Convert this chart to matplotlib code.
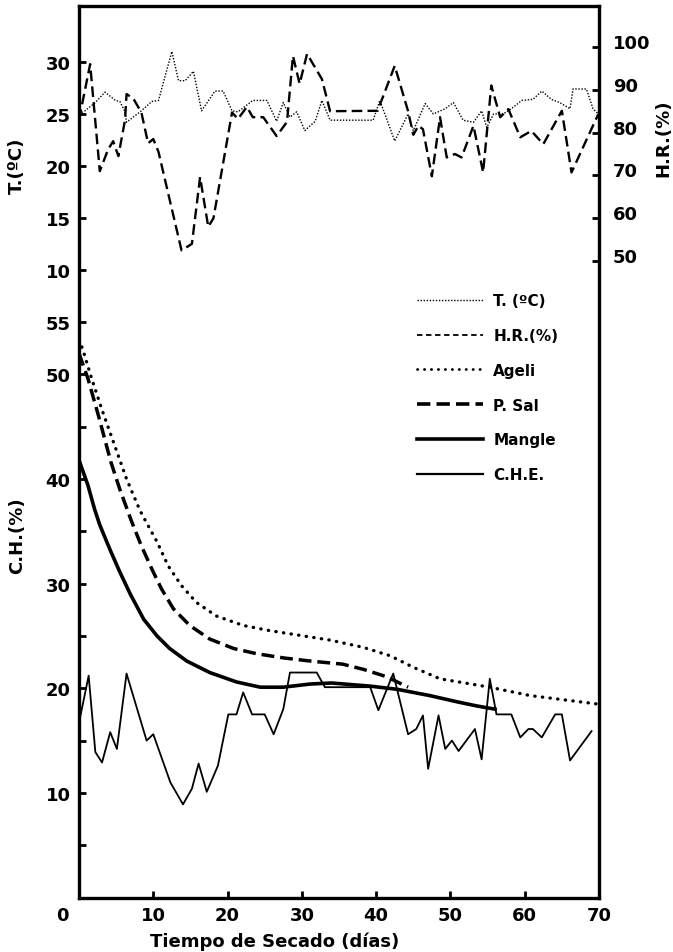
import matplotlib
matplotlib.use("Agg")
import matplotlib.pyplot as plt
from matplotlib.lines import Line2D
from matplotlib.transforms import ScaledTranslation

# temperature (upper panel, left scale)
t_days = [0, 0.8, 2.2, 3.5, 4.9, 5.5, 6.2, 6.4, 8.4, 9.8, 10.7, 12.5, 13.4, 14.3,
          15.4, 16.5, 18.3, 19.4, 20.6, 21.4, 23.4, 25.3, 26.6, 27.5, 28.4, 29.3,
          30.4, 31.8, 32.7, 33.8, 39.6, 40.5, 42.5, 44.3, 45, 46.6, 47.7, 49.3,
          50.4, 51.7, 53.1, 54.2, 54.9, 55.8, 57.1, 58.2, 59.6, 61.1, 62.3, 63.6,
          64.7, 66.1, 66.5, 68.3, 69.2, 69.9]
t_vals = [25, 25.3, 26.1, 27.1, 26.3, 26.2, 25.2, 24.2, 25.3, 26.2, 26.3, 31.0,
          28.2, 28.2, 29.1, 25.3, 27.2, 27.2, 25.3, 25.2, 26.3, 26.3, 24.3, 26.1,
          24.7, 25.2, 23.4, 24.3, 26.3, 24.4, 24.4, 26.3, 22.4, 25, 23.4, 26, 25,
          25.5, 26.1, 24.4, 24.2, 25.3, 23.7, 25, 25, 25.5, 26.3, 26.4, 27.2, 26.4,
          26.1, 25.5, 27.4, 27.4, 25.5, 25]

# relative humidity (upper panel, right scale)
hr_days = [0, 1.5, 2.8, 3.9, 4.6, 5.3, 6.2, 6.4, 7.3, 8.4, 9.3, 10, 10.7, 13.8,
           15.2, 16.3, 17.4, 18.1, 20.6, 21.4, 22.6, 23.4, 24.8, 26.6, 28, 28.8,
           29.7, 30.7, 32.7, 33.8, 40.2, 42.5, 44.3, 45, 45.7, 46.3, 47.5, 48.6,
           49.5, 50.6, 51.5, 53.1, 54.4, 55.5, 56.7, 57.8, 59.4, 60.9, 62.5, 65,
           66.3, 69.9]
hr_vals = [83, 96, 71, 76, 78, 74.5, 83, 89, 88, 84.7, 77.5, 78.5, 75.5, 52.5,
           54, 69.6, 58, 60, 84.7, 83.2, 86, 83.6, 83.6, 79.2, 82.5, 97.9, 91.4,
           98.4, 92.5, 85, 85.1, 95.6, 85, 79.5, 81.6, 80.8, 69.8, 83.6, 74.2, 75,
           74.2, 81.6, 70.7, 91, 83.6, 85.5, 78.9, 80.4, 77.3, 85.1, 70.7, 84.3]

# moisture content curves (lower panel)
ageli_days = [0, 0.5, 1.7, 3.2, 4.8, 6.4, 8.2, 9.1, 10.5, 12, 13.8, 15.8, 18.5,
              22.1, 25.7, 29.3, 33.8, 38.3, 41.9, 45, 48.6, 55.3, 60.7, 69.7]
ageli_vals = [53.3, 52.4, 49.6, 46.4, 43.2, 40, 37, 35.8, 34, 31.7, 29.8, 28.2,
              26.9, 26, 25.5, 25.1, 24.6, 23.9, 23.1, 22, 20.9, 20.1, 19.3, 18.5]

psal_days = [0, 1.2, 2.6, 4.3, 5.5, 7.1, 8.4, 9.8, 11.1, 12.7, 14.9, 17.6, 20.8,
             23.9, 27.5, 31.1, 35.5, 38.3, 41.4, 44.3]
psal_vals = [52, 49.6, 46.1, 41.6, 39, 35.9, 33.6, 31.4, 29.5, 27.6, 26, 24.7,
             23.8, 23.3, 22.9, 22.6, 22.3, 21.8, 21.1, 20.1]

mangle_days = [0, 1.2, 2.1, 2.8, 4.2, 5.5, 6.9, 8.7, 10.5, 12.2, 14.5, 17.6, 21.2,
               24.4, 27.5, 31.1, 34, 39.2, 42.8, 47.2, 50.9, 53.6, 56]
mangle_vals = [41.8, 39.4, 37.1, 35.6, 33.2, 31.1, 29, 26.6, 25, 23.8, 22.6, 21.5,
               20.6, 20.1, 20.1, 20.4, 20.5, 20.2, 19.9, 19.3, 18.7, 18.3, 18]

# equilibrium moisture content
che_days = [0, 1.3, 2.2, 3.1, 4.2, 5.1, 6.4, 9.1, 10, 12.3, 14, 15.2, 16.1, 17.2,
            18.7, 20.1, 21.2, 22.1, 23.3, 25, 26.2, 27.5, 28.4, 32, 33.1, 39.2,
            40.3, 42.3, 44.3, 45.4, 46.3, 47, 48.4, 49.3, 50.2, 51.1, 53.3, 54.2,
            55.3, 56.2, 58.2, 59.4, 60.5, 61.1, 62.3, 64.1, 65, 66.1, 69]
che_vals = [16.7, 21.2, 13.9, 12.9, 15.8, 14.2, 21.4, 15, 15.6, 11, 8.9, 10.4,
            12.8, 10.1, 12.6, 17.5, 17.5, 19.6, 17.5, 17.5, 15.6, 18, 21.5, 21.5,
            20.1, 20.1, 17.9, 21.4, 15.6, 16.1, 17.4, 12.3, 17.4, 14.2, 15, 14,
            16.1, 13.2, 20.9, 17.5, 17.5, 15.3, 16.1, 16.1, 15.3, 17.5, 17.5, 13.1,
            15.9]

x_ticks = [0, 10, 20, 30, 40, 50, 60, 70]
ch_ticks = [5, 10, 15, 20, 25, 30, 35, 40, 45, 50, 55]
ch_labels = ["", "10", "", "20", "", "30", "", "40", "", "50", "55"]
t_ticks = [10, 15, 20, 25, 30]
hr_ticks = [50, 60, 70, 80, 90, 100]

W, H = 673, 953
fig = plt.figure(figsize=(W / 100, H / 100), dpi=100)
rect = [79 / W, 1 - 898.5 / H, (599 - 79) / W, (898.5 - 7) / H]

lab = dict(family="DejaVu Sans", weight="bold", size=13)

ax = fig.add_axes(rect)
ax_t = fig.add_axes(rect, sharex=ax)
ax_h = fig.add_axes(rect, sharex=ax)
for a in (ax_t, ax_h):
    a.patch.set_visible(False)
    for s in a.spines.values():
        s.set_visible(False)
    a.tick_params(axis="x", bottom=False, labelbottom=False)

ax.set_xlim(0, 70)
ax.set_ylim(0, 85.2)
ax_t.set_ylim(-50.34, 35.38)
ax_h.set_ylim(-98.7, 109.58)

for s in ax.spines.values():
    s.set_linewidth(2.4)

ax.set_xticks(x_ticks)
ax.set_xticklabels([str(v) for v in x_ticks], **lab)
ax.set_yticks(ch_ticks)
ax.set_yticklabels(ch_labels, **lab)
ax.tick_params(direction="in", length=5, width=2, pad=6)

ax_t.set_yticks(t_ticks)
ax_t.set_yticklabels([str(v) for v in t_ticks], **lab)
ax_t.tick_params(axis="y", direction="in", length=5, width=2, pad=6)

ax_h.yaxis.tick_right()
ax_h.set_yticks(hr_ticks)
ax_h.set_yticklabels([str(v) for v in hr_ticks], **lab)
ax_h.tick_params(axis="y", direction="in", length=5, width=2, pad=10)
# hand lettered labels sit a bit above their ticks
for t in ax_h.get_yticklabels():
    t.set_transform(t.get_transform() + ScaledTranslation(0, 6 / 100, fig.dpi_scale_trans))
# the origin "0" is written left of the corner
x0 = ax.get_xticklabels()[0]
x0.set_transform(x0.get_transform() + ScaledTranslation(-17 / 100, 0, fig.dpi_scale_trans))

ax_t.plot(t_days, t_vals, color="black", lw=1.0, linestyle=(0, (1, 1.2)))
ax_h.plot(hr_days, hr_vals, color="black", lw=1.7, linestyle=(0, (4.5, 2.2)))

ax.plot(ageli_days, ageli_vals, color="black", lw=2.4,
        linestyle=(0, (0.1, 2.2)), dash_capstyle="round")
ax.plot(psal_days, psal_vals, color="black", lw=2.5, linestyle=(0, (3.7, 1.7)))
ax.plot(mangle_days, mangle_vals, color="black", lw=2.6, solid_joinstyle="round")
ax.plot(che_days, che_vals, color="black", lw=1.3)

leg_lines = [
    Line2D([], [], color="black", lw=1.0, linestyle=(0, (1, 1.2))),
    Line2D([], [], color="black", lw=1.3, linestyle=(0, (3, 2))),
    Line2D([], [], color="black", lw=2.0, linestyle=(0, (0.1, 2.4)), dash_capstyle="round"),
    Line2D([], [], color="black", lw=2.6, linestyle=(0, (3.7, 1.7))),
    Line2D([], [], color="black", lw=2.6),
    Line2D([], [], color="black", lw=1.6),
]
leg_names = ["T. (ºC)", "H.R.(%)", "Ageli", "P. Sal", "Mangle", "C.H.E."]
ax.legend(leg_lines, leg_names, loc="upper left",
          bbox_to_anchor=(417 / W, 1 - 294 / H), bbox_transform=fig.transFigure,
          frameon=False, borderpad=0, borderaxespad=0, handlelength=4.3,
          handletextpad=0.7, labelspacing=1.3,
          prop=dict(family="DejaVu Sans", weight="bold", size=11))

fig.text(17 / W, 1 - 166 / H, "T.(ºC)", rotation=90, ha="center", va="center", **lab)
fig.text(17 / W, 1 - 536 / H, "C.H.(%)", rotation=90, ha="center", va="center", **lab)
fig.text(663 / W, 1 - 138 / H, "H.R.(%)", rotation=90, ha="center", va="center", **lab)
fig.text(275 / W, 1 - 942 / H, "Tiempo de Secado (días)", ha="center", va="center", **lab)

fig.savefig("out.png", dpi=100)
